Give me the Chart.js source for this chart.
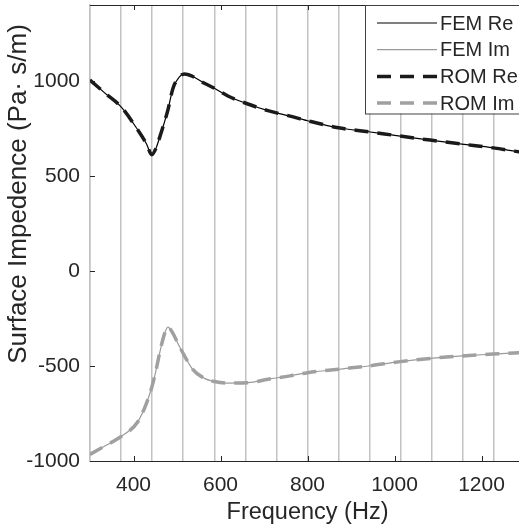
<!DOCTYPE html>
<html>
<head>
<meta charset="utf-8">
<script src="https://cdn.jsdelivr.net/npm/chart.js@4"></script>
<style>
  html, body { margin: 0; padding: 0; background: #fff; overflow: hidden; }
  #wrap { width: 519px; height: 532px; overflow: hidden; }
</style>
</head>
<body>
<div id="wrap"><canvas id="chart" width="530" height="532"></canvas></div>
<script>
var freqs = [300, 335, 371, 410, 430, 442, 452, 460, 470, 479, 491, 505, 517, 535, 563, 586, 617, 663, 709, 760, 800, 871, 940, 1013, 1082, 1155, 1227, 1300];
var femRe = [1005, 935, 865, 742, 668, 612, 648, 702, 775, 847, 963, 1020, 1037, 1025, 988, 962, 921, 879, 844, 815, 791, 754, 733, 710, 689, 668, 648, 622];
var femIm = [-965, -920, -872, -793, -695, -612, -520, -433, -340, -295, -330, -395, -445, -515, -565, -582, -590, -588, -570, -552, -535, -517, -500, -477, -460, -447, -437, -428];
var romRe = femRe.slice();
var romIm = femIm.slice();

var xTicks = [400, 600, 800, 1000, 1200];
var yTicks = [-1000, -500, 0, 500, 1000];
var gridFreqs = [300, 371.4, 442.9, 514.3, 585.7, 657.1, 728.6, 800, 871.4, 942.9, 1014.3, 1085.7, 1157.1, 1228.6, 1300];

var FONT = "'Liberation Sans', Arial, sans-serif";
var INK = "#262626";

function points(ys) {
  return freqs.map(function(f, i) { return { x: f, y: ys[i] }; });
}

var frame = {
  id: "frame",
  afterDraw: function(chart) {
    var ctx = chart.ctx;
    var a = chart.chartArea;
    var sx = chart.scales.x, sy = chart.scales.y;
    ctx.save();
    ctx.strokeStyle = INK;
    ctx.lineWidth = 1;
    ctx.beginPath();
    ctx.moveTo(a.left, a.top + 0.5);
    ctx.lineTo(a.right, a.top + 0.5);
    xTicks.forEach(function(v) {
      var px = Math.round(sx.getPixelForValue(v)) + 0.5;
      ctx.moveTo(px, a.bottom); ctx.lineTo(px, a.bottom - 5);
      ctx.moveTo(px, a.top); ctx.lineTo(px, a.top + 5);
    });
    yTicks.forEach(function(v) {
      var py = Math.round(sy.getPixelForValue(v)) + 0.5;
      ctx.moveTo(a.left, py); ctx.lineTo(a.left + 5, py);
      ctx.moveTo(a.right, py); ctx.lineTo(a.right - 5, py);
    });
    ctx.stroke();

    // y axis title (sits above the axis middle, as in the source figure)
    ctx.fillStyle = INK;
    ctx.font = "26px " + FONT;
    ctx.textAlign = "center";
    ctx.textBaseline = "middle";
    ctx.translate(19, 194);
    ctx.rotate(-Math.PI / 2);
    ctx.fillText("Surface Impedence (Pa\u00b7 s/m)", 0, 0);
    ctx.restore();

    // legend box
    ctx.save();
    var left = 365.5, top = a.top, bottom = 113.5;
    ctx.fillStyle = "#fff";
    ctx.fillRect(left, top, chart.width - left, bottom - top);
    ctx.strokeStyle = "#404040";
    ctx.lineWidth = 1;
    ctx.strokeRect(left, top + 0.5, chart.width, bottom - top);
    ctx.font = "20px " + FONT;
    ctx.textAlign = "left";
    ctx.textBaseline = "middle";
    chart.data.datasets.forEach(function(ds, i) {
      var y = 23 + i * 26.7;
      ctx.strokeStyle = ds.borderColor;
      ctx.lineWidth = ds.borderWidth;
      ctx.setLineDash(ds.borderDash || []);
      ctx.beginPath();
      ctx.moveTo(377, y); ctx.lineTo(437, y);
      ctx.stroke();
      ctx.setLineDash([]);
      ctx.fillStyle = INK;
      ctx.fillText(ds.label, 440, y + 1);
    });
    ctx.restore();
  }
};

new Chart(document.getElementById("chart").getContext("2d"), {
  type: "line",
  data: {
    datasets: [
      { label: "FEM Re", data: points(femRe), borderColor: "#000", borderWidth: 1.2, order: 3 },
      { label: "FEM Im", data: points(femIm), borderColor: "#9a9a9a", borderWidth: 1.2, order: 2 },
      { label: "ROM Re", data: points(romRe), borderColor: "#1a1a1a", borderWidth: 3.5, borderDash: [14, 9], order: 1 },
      { label: "ROM Im", data: points(romIm), borderColor: "#a0a0a0", borderWidth: 3.5, borderDash: [14, 9], order: 0 }
    ]
  },
  options: {
    responsive: false,
    animation: false,
    devicePixelRatio: 1,
    layout: { padding: { left: 0, right: 5, top: 5, bottom: 5 } },
    elements: {
      point: { radius: 0 },
      line: { cubicInterpolationMode: "monotone", fill: false }
    },
    plugins: { legend: { display: false }, tooltip: { enabled: false } },
    scales: {
      x: {
        type: "linear",
        min: 300,
        max: 1300,
        afterBuildTicks: function(scale) {
          var vals = gridFreqs.concat(xTicks.filter(function(v) { return gridFreqs.indexOf(v) < 0; }));
          vals.sort(function(a, b) { return a - b; });
          scale.ticks = vals.map(function(v) { return { value: v }; });
        },
        afterFit: function(scale) {
          scale.height = 66;
          scale.paddingLeft = 0;
          scale.paddingRight = 0;
        },
        ticks: {
          autoSkip: false,
          maxRotation: 0,
          padding: 12,
          color: INK,
          font: { family: FONT, size: 21 },
          callback: function(v) { return xTicks.indexOf(v) >= 0 ? String(v) : ""; }
        },
        grid: {
          drawTicks: false,
          lineWidth: 1.5,
          color: function(c) {
            return c.tick && gridFreqs.indexOf(c.tick.value) >= 0 ? "#c2c2c2" : "rgba(0,0,0,0)";
          }
        },
        border: { display: true, color: INK, width: 1 },
        title: {
          display: true,
          text: "Frequency (Hz)",
          color: INK,
          font: { family: FONT, size: 23.5 },
          padding: { top: 0, bottom: 0 }
        }
      },
      y: {
        min: -1000,
        max: 1400,
        afterBuildTicks: function(scale) {
          scale.ticks = yTicks.map(function(v) { return { value: v }; });
        },
        afterFit: function(scale) {
          scale.width = 90;
          scale.paddingTop = 0;
          scale.paddingBottom = 0;
        },
        ticks: {
          padding: 10,
          color: INK,
          font: { family: FONT, size: 21 },
          callback: function(v) { return String(v); }
        },
        grid: { display: false, drawTicks: false },
        border: { display: true, color: "#c2c2c2", width: 1.5 }
      }
    }
  },
  plugins: [frame]
});
</script>
</body>
</html>
